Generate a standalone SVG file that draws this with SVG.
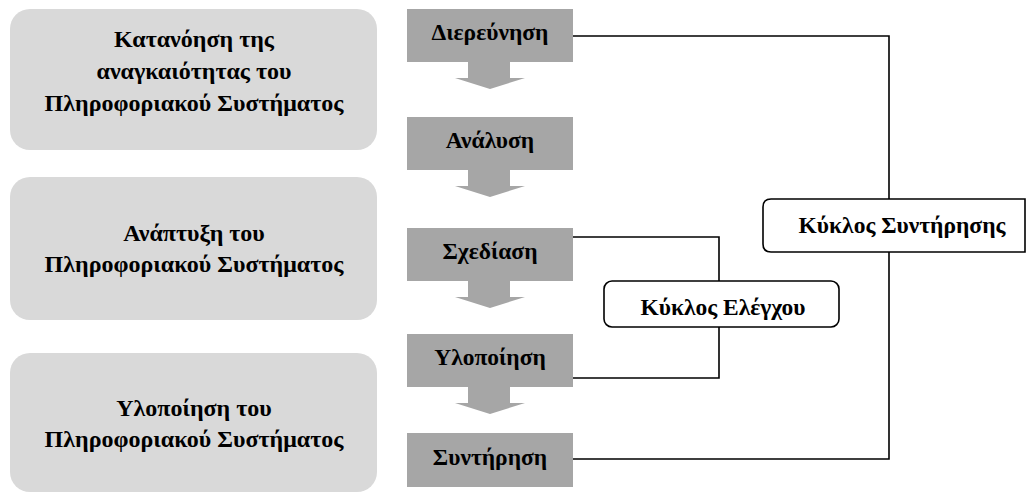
<svg xmlns="http://www.w3.org/2000/svg" width="1027" height="494" viewBox="0 0 1027 494">
<style>
.phase{fill:#d9d9d9}
.step{fill:#a6a6a6}
.arr{fill:#a6a6a6}
.cyc{fill:#ffffff;stroke:#000;stroke-width:1.6}
.conn{fill:none;stroke:#000;stroke-width:1.6}
text{font-family:"Liberation Serif","Times New Roman",serif;font-weight:bold;fill:#000;text-anchor:middle}
.big{font-size:24px}
.mid{font-size:23.5px}
</style>
<rect width="1027" height="494" fill="#ffffff"/>
<g id="phase1"><rect class="phase" x="10" y="9" width="367" height="141" rx="20"/>
<text class="big" x="194" y="47">Κατανόηση της</text>
<text class="big" x="194" y="79">αναγκαιότητας του</text>
<text class="big" x="194" y="111">Πληροφοριακού Συστήματος</text></g>
<g id="phase2"><rect class="phase" x="10" y="177" width="367" height="143" rx="20"/>
<text class="big" x="194" y="241">Ανάπτυξη του</text>
<text class="big" x="194" y="272">Πληροφοριακού Συστήματος</text></g>
<g id="phase3"><rect class="phase" x="10" y="353" width="367" height="139" rx="20"/>
<text class="big" x="194" y="416">Υλοποίηση του</text>
<text class="big" x="194" y="447">Πληροφοριακού Συστήματος</text></g>
<g id="arrows">
<polygon class="arr" points="468,62 510,62 510,78 525,78 490,89 455,78 468,78"/>
<polygon class="arr" points="468,170 510,170 510,186 525,186 490,197 455,186 468,186"/>
<polygon class="arr" points="468,281 510,281 510,297 525,297 490,308 455,297 468,297"/>
<polygon class="arr" points="468,387 510,387 510,403 525,403 490,414 455,403 468,403"/>
</g>
<g id="s1"><rect class="step" x="407" y="9" width="166" height="53"/><text class="mid" x="490" y="40">Διερεύνηση</text></g>
<g id="s2"><rect class="step" x="407" y="117" width="166" height="53"/><text class="mid" x="490" y="148">Ανάλυση</text></g>
<g id="s3"><rect class="step" x="407" y="228" width="166" height="53"/><text class="mid" x="490" y="259">Σχεδίαση</text></g>
<g id="s4"><rect class="step" x="407" y="334" width="166" height="53"/><text class="mid" x="490" y="365">Υλοποίηση</text></g>
<g id="s5"><rect class="step" x="407" y="433" width="166" height="54"/><text class="mid" x="490" y="465">Συντήρηση</text></g>
<g id="connectors">
<path class="conn" d="M573 36 H889 V199"/>
<path class="conn" d="M889 252 V459 H573"/>
<path class="conn" d="M573 237 H719 V281"/>
<path class="conn" d="M719 327 V378 H573"/>
</g>
<g id="cycle-maint"><path class="cyc" d="M1025 199 H771 Q763 199 763 207 V244 Q763 252 771 252 H1025 Z"/>
<text class="mid" x="902" y="233">Κύκλος Συντήρησης</text></g>
<g id="cycle-test"><rect class="cyc" x="604" y="281" width="235" height="46" rx="8"/>
<text class="mid" x="723" y="315">Κύκλος Ελέγχου</text></g>
</svg>
